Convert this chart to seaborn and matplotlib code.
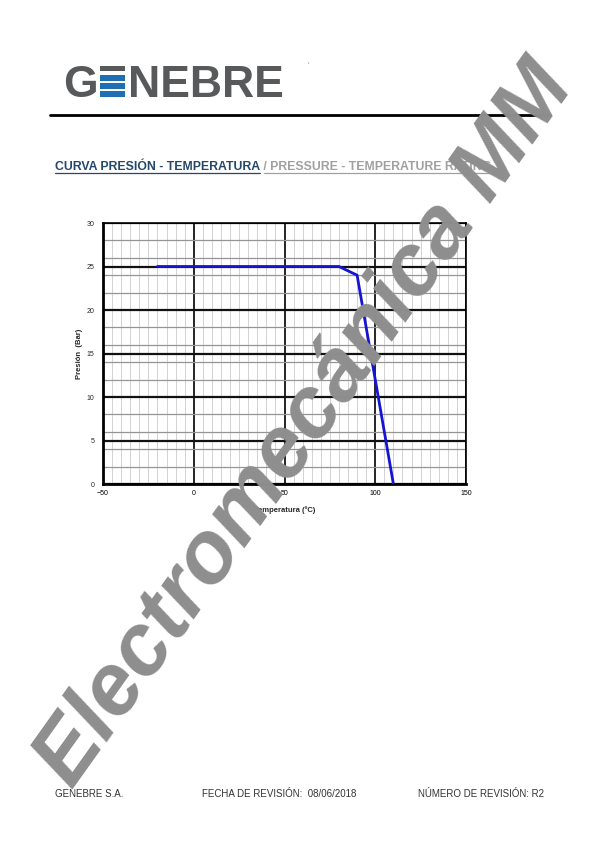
import matplotlib
matplotlib.use("Agg")
import matplotlib.pyplot as plt
import seaborn as sns
import pandas as pd
from matplotlib.patches import Rectangle
from matplotlib.lines import Line2D

# ---- data ----
temperatures = [-20, 80, 90, 110]
pressures = [25, 25, 24, 0]
x_major = [-50, 0, 50, 100, 150]
y_major = [0, 5, 10, 15, 20, 25, 30]
x_minor = list(range(-50, 151, 5))
y_minor = list(range(0, 31, 2))
title_es = "CURVA PRESIÓN - TEMPERATURA"
title_en = " / PRESSURE - TEMPERATURE RATING"
footer = ["GENEBRE S.A.", "FECHA DE REVISIÓN:  08/06/2018", "NÚMERO DE REVISIÓN: R2"]

sns.set_style("white")
plt.rcParams['font.family'] = ['Liberation Sans', 'DejaVu Sans']

W, H = 600, 849
fig = plt.figure(figsize=(6, 8.49), dpi=100)
fx = lambda x: x / W
fy = lambda y: 1 - y / H

ax = fig.add_axes([fx(103), fy(484), fx(466) - fx(103), (484 - 223) / H])
df = pd.DataFrame({"t": temperatures, "p": pressures})
sns.lineplot(data=df, x="t", y="p", ax=ax, color="#1414d2", lw=2, sort=False, zorder=5)

ax.set_xlim(-50, 150)
ax.set_ylim(0, 30)
ax.set_xticks(x_major)
ax.set_xticks([v for v in x_minor if v not in x_major], minor=True)
ax.set_yticks(y_major)
ax.set_yticks([v for v in y_minor if v not in y_major], minor=True)
ax.grid(which='major', axis='x', color='black', lw=1.2, zorder=2)
ax.grid(which='minor', axis='x', color='#d2d2d2', lw=0.7, zorder=1)
ax.grid(which='major', axis='y', color='#111111', lw=1.6, zorder=2)
ax.grid(which='minor', axis='y', color='#959595', lw=0.9, zorder=1)
ax.set_axisbelow(True)
ax.tick_params(axis='x', which='major', direction='in', length=3, width=1, labelsize=5, pad=4, colors='black')
ax.tick_params(axis='x', which='minor', direction='in', length=2, width=1)
ax.tick_params(axis='y', which='both', length=0, labelsize=5, pad=6)
for s in ax.spines.values():
    s.set_color('black')
    s.set_linewidth(1.2)
ax.spines['left'].set_linewidth(2)
ax.spines['bottom'].set_linewidth(2)
ax.set_xlabel("Temperatura (ºC)", fontsize=5.5, fontweight='bold', labelpad=7)
ax.set_ylabel("Presión  (Bar)", fontsize=5.5, fontweight='bold', labelpad=3)

# ---- logo ----
grey = '#58595b'
fig.text(fx(63), fy(97), "G", fontsize=32, fontweight='bold', color=grey, va='baseline', ha='left')
fig.text(fx(128), fy(97), "NEBRE", fontsize=32, fontweight='bold', color=grey, va='baseline', ha='left')
for (y0, y1, c) in [(66, 71, grey), (75, 81, '#1f6fb5'), (83, 89, '#1f6fb5'), (91, 97, '#1f6fb5')]:
    fig.add_artist(Rectangle((fx(100), fy(y1)), fx(125) - fx(100), (y1 - y0) / H,
                             transform=fig.transFigure, color=c, lw=0))
fig.add_artist(Line2D([fx(50), fx(550)], [fy(115), fy(115)], transform=fig.transFigure, color='black', lw=2))
fig.text(fx(308), fy(66), "‘", fontsize=5, color='#777777')

# ---- title ----
renderer = fig.canvas.get_renderer()
t1 = fig.text(fx(55), fy(170), title_es, fontsize=8.8, fontweight='bold', color='#24476b', va='baseline')
bb1 = t1.get_window_extent(renderer)
t2 = fig.text(bb1.x1 / W, fy(170), title_en, fontsize=8.8, fontweight='bold', color='#a0a0a0', va='baseline')
bb2 = t2.get_window_extent(renderer)
fig.add_artist(Line2D([bb1.x0 / W, bb1.x1 / W], [fy(173), fy(173)], transform=fig.transFigure, color='#24476b', lw=0.9))
fig.add_artist(Line2D([bb1.x1 / W + 0.007, bb2.x1 / W], [fy(173), fy(173)], transform=fig.transFigure, color='#a0a0a0', lw=0.9))

# ---- footer ----
for x, txt in zip([55, 202, 418], footer):
    fig.text(fx(x), fy(797), txt, fontsize=7, color='#333333', va='baseline')

# ---- watermark ----
fig.text(fx(305), fy(425), "Electromecánica MM", fontsize=63, fontweight='bold', style='italic',
         color='#8e8e8e', rotation=54.5, rotation_mode='anchor', ha='center', va='center',
         family=['Liberation Sans'], zorder=20)

fig.savefig("out.png", dpi=100)
